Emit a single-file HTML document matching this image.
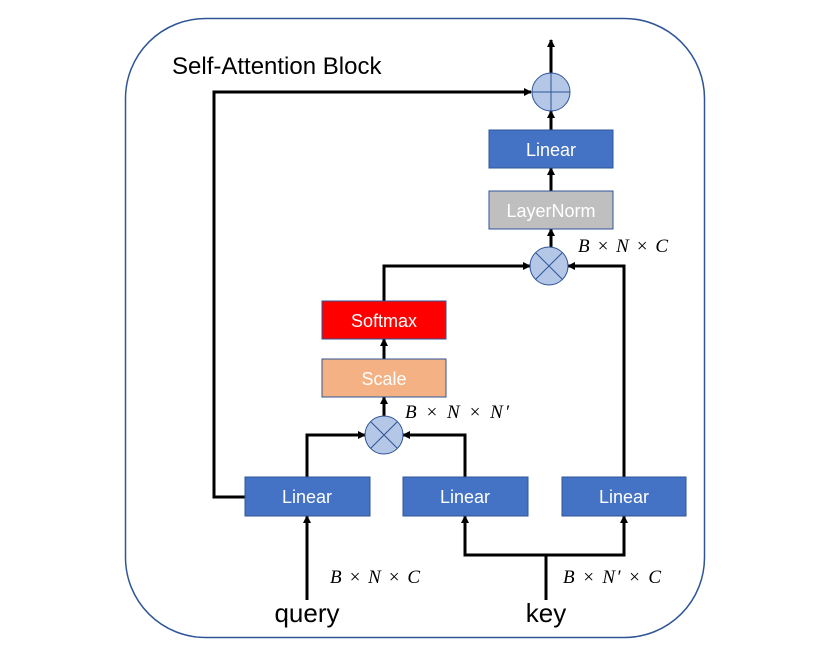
<!DOCTYPE html>
<html><head><style>body{margin:0;background:#fff}</style></head><body>
<svg width="830" height="664" viewBox="0 0 830 664" xmlns="http://www.w3.org/2000/svg" font-family="Liberation Sans, sans-serif">
<defs><marker id="a" markerWidth="8" markerHeight="8" refX="7" refY="4" orient="auto" markerUnits="userSpaceOnUse"><path d="M0,0 L8,4 L0,8 z" fill="#000"/></marker></defs>
<rect x="125.5" y="18.5" width="579" height="619" rx="80" fill="#fff" stroke="#2F5597" stroke-width="1.5"/>
<text x="172" y="74" font-size="24">Self-Attention Block</text>
<g stroke="#000" stroke-width="3" fill="none" marker-end="url(#a)">
<path d="M551,73 V40"/>
<path d="M551,130 V111"/>
<path d="M551,191 V168"/>
<path d="M551,248 V229"/>
<path d="M245,497 H214 V92 H531"/>
<path d="M384,301 V266 H530"/>
<path d="M624,477 V266 H568"/>
<path d="M384,359 V339"/>
<path d="M384,416 V397"/>
<path d="M307,477 V435 H365"/>
<path d="M465,477 V435 H403"/>
<path d="M307,600 V516"/>
<path d="M546,600 V555 H465 V516"/>
<path d="M546,555 H624 V516"/>
</g>
<g stroke="#2F5597" stroke-width="1">
<rect x="489" y="130" width="124" height="38" fill="#4472C4"/>
<rect x="489" y="191" width="124" height="38" fill="#BFBFBF"/>
<rect x="322" y="301" width="124" height="38" fill="#FF0000"/>
<rect x="322" y="359" width="124" height="38" fill="#F4B183"/>
<rect x="245" y="477" width="125" height="39" fill="#4472C4"/>
<rect x="403" y="477" width="125" height="39" fill="#4472C4"/>
<rect x="562" y="477" width="124" height="39" fill="#4472C4"/>
<circle cx="551" cy="92" r="19" fill="#B4C7E7"/>
<path d="M532,92 H570 M551,73 V111" fill="none"/>
<circle cx="549" cy="266" r="19" fill="#B4C7E7"/>
<path d="M535.6,252.6 L562.4,279.4 M562.4,252.6 L535.6,279.4"/>
<circle cx="384" cy="435" r="19" fill="#B4C7E7"/>
<path d="M370.6,421.6 L397.4,448.4 M397.4,421.6 L370.6,448.4"/>
</g>
<g fill="#fff" font-size="18" text-anchor="middle">
<text x="551" y="156">Linear</text>
<text x="551" y="217">LayerNorm</text>
<text x="384" y="327">Softmax</text>
<text x="384" y="385">Scale</text>
<text x="307" y="503">Linear</text>
<text x="465" y="503">Linear</text>
<text x="624" y="503">Linear</text>
</g>
<g font-family="Liberation Serif, serif" font-style="italic" font-size="19">
<text x="578" y="252" textLength="90">B × N × C</text>
<text x="405" y="418" textLength="104">B × N × N′</text>
<text x="330" y="583" textLength="90">B × N × C</text>
<text x="563" y="583" textLength="98">B × N′ × C</text>
</g>
<text x="307" y="622" font-size="26" text-anchor="middle">query</text>
<text x="546" y="622" font-size="26" text-anchor="middle">key</text>
</svg>
</body></html>
